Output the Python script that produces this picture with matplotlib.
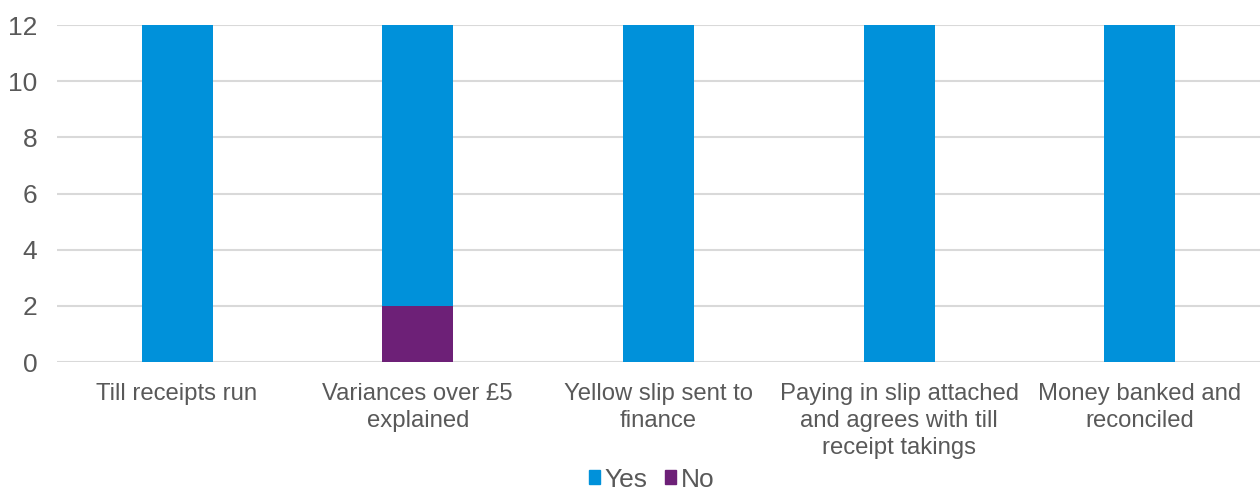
import matplotlib
matplotlib.use("Agg")
import matplotlib.pyplot as plt
from matplotlib.patches import Patch
import numpy as np

plt.rcParams["font.family"] = ["Liberation Sans", "DejaVu Sans"]

categories = [
    "Till receipts run",
    "Variances over £5\nexplained",
    "Yellow slip sent to\nfinance",
    "Paying in slip attached\nand agrees with till\nreceipt takings",
    "Money banked and\nreconciled",
]
no_vals = [0, 2, 0, 0, 0]
yes_vals = [12, 10, 12, 12, 12]

BLUE = "#0091DA"
PURPLE = "#6D2077"
TEXT = "#595959"
GRID = "#D9D9D9"

fig = plt.figure(figsize=(12.6, 4.92), dpi=100)
ax = fig.add_axes([0.045, 0.264, 0.955, 0.685])

x = np.arange(len(categories))
ax.bar(x, no_vals, width=0.295, color=PURPLE, zorder=3)
ax.bar(x, yes_vals, width=0.295, bottom=no_vals, color=BLUE, zorder=3)

ax.set_xlim(-0.5, len(categories) - 0.5)
ax.set_ylim(0, 12)
ax.set_yticks(range(0, 13, 2))
ax.grid(axis="y", color=GRID, linewidth=1.5, zorder=0)
for s in ax.spines.values():
    s.set_visible(False)
ax.tick_params(axis="both", length=0, labelsize=17.2, colors=TEXT)
ax.tick_params(axis="x", pad=15)
ax.tick_params(axis="y", pad=14)
ax.set_xticks(x)
ax.set_xticklabels(categories, linespacing=1.3)
for lbl in ax.get_yticklabels():
    lbl.set_fontsize(19)

handles = [Patch(color=BLUE, label="Yes"), Patch(color=PURPLE, label="No")]
fig.legend(handles=handles, loc="center", bbox_to_anchor=(0.517, 0.025),
           ncol=2, frameon=False, fontsize=19, labelcolor=TEXT,
           handlelength=0.43, handleheight=0.43, handletextpad=0.17,
           columnspacing=0.65, borderpad=0.1)

fig.savefig("out.png", dpi=100, facecolor="white")
